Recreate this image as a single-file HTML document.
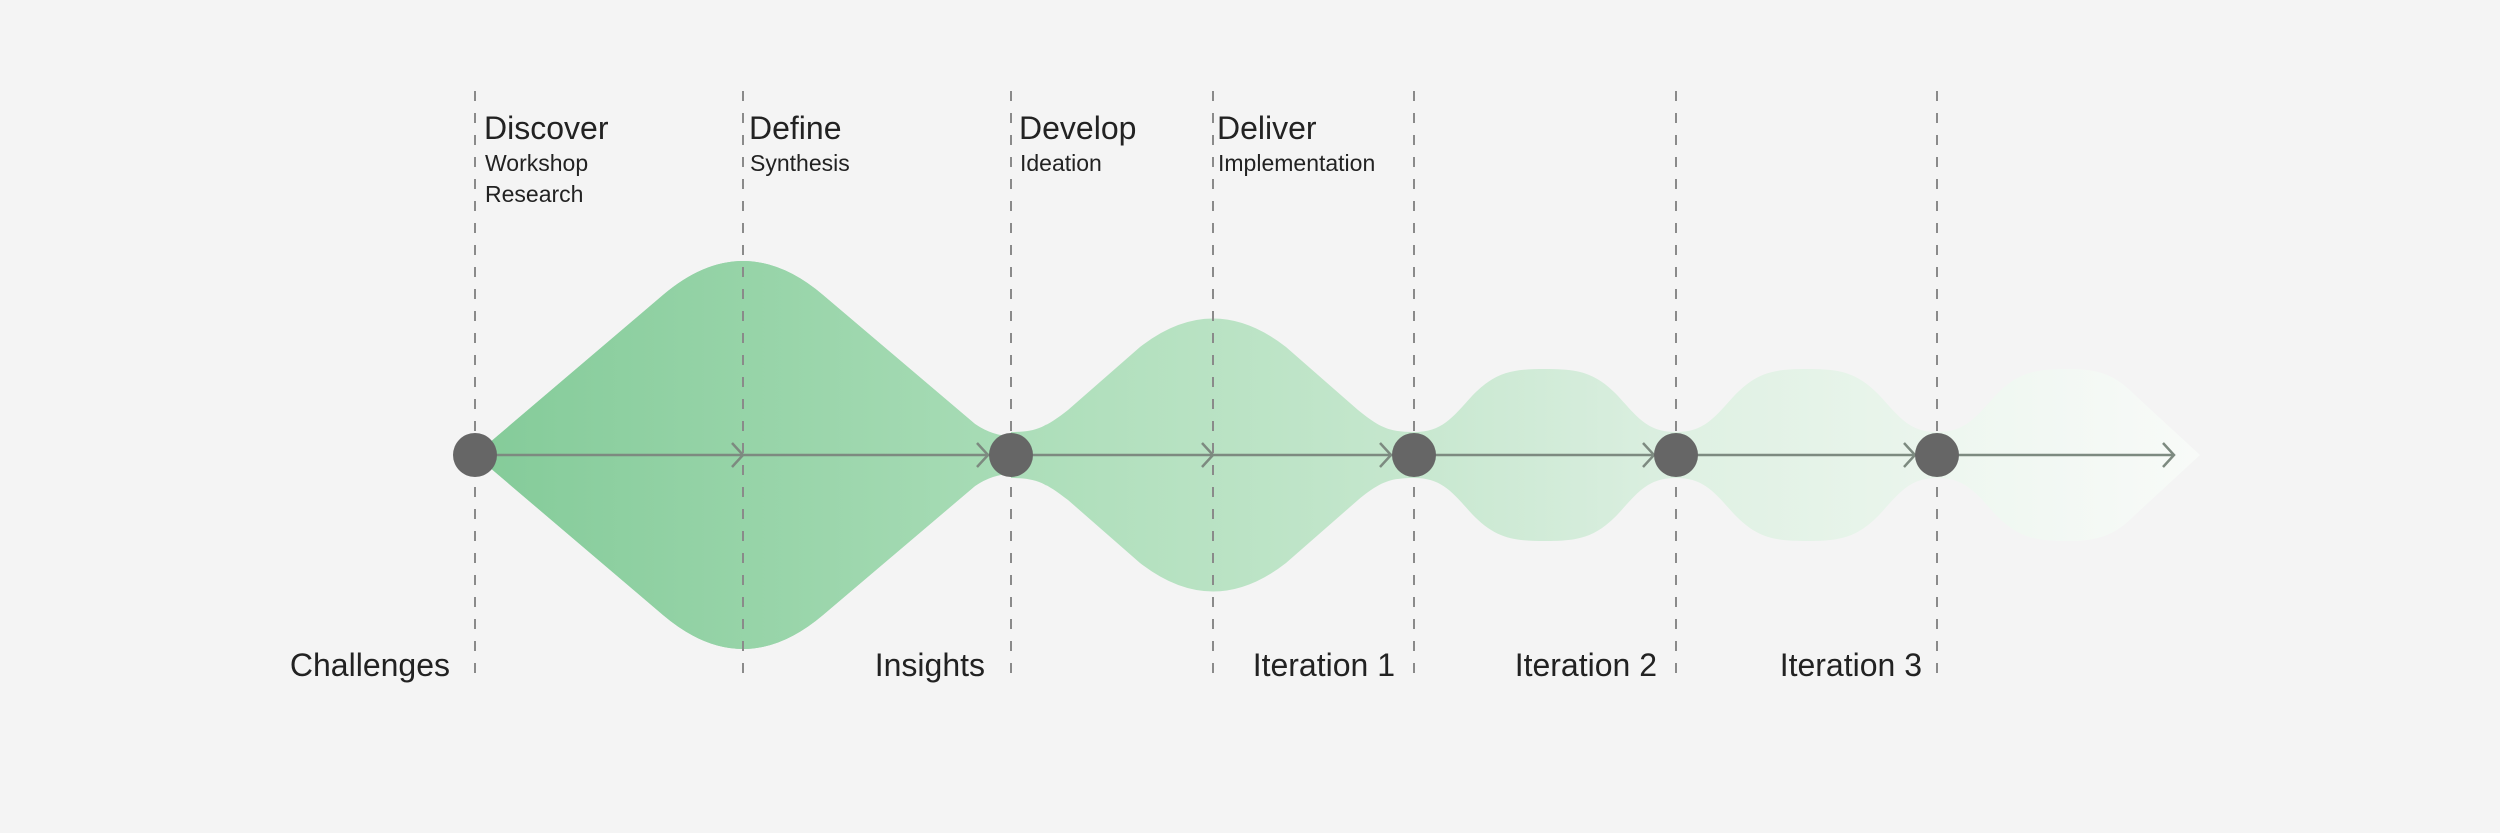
<!DOCTYPE html>
<html><head><meta charset="utf-8">
<style>
html,body{margin:0;padding:0;background:#f4f4f4;}
svg{display:block;}
text{font-family:"Liberation Sans",sans-serif;fill:#222;}
</style></head>
<body>
<svg width="2500" height="833" viewBox="0 0 2500 833" xmlns="http://www.w3.org/2000/svg">
<defs>
<linearGradient id="g" gradientUnits="userSpaceOnUse" x1="475" y1="0" x2="2200" y2="0">
<stop offset="0" stop-color="#84cb99"/>
<stop offset="0.31" stop-color="#a8dcb6"/>
<stop offset="0.312" stop-color="#acdeb9"/>
<stop offset="0.545" stop-color="#c6e7ce"/>
<stop offset="0.55" stop-color="#c8e8d0"/>
<stop offset="0.70" stop-color="#dcefe1"/>
<stop offset="0.705" stop-color="#dff1e3"/>
<stop offset="0.85" stop-color="#ebf5ed"/>
<stop offset="0.855" stop-color="#eef7f0"/>
<stop offset="1" stop-color="#f8faf8"/>
</linearGradient>
</defs>
<rect width="2500" height="833" fill="#f4f4f4"/>
<g fill="url(#g)">
<path d="M475,455 L663,295 Q743,227 823,295 L975,424 Q1011,448 1047,424 L1011,455
 M475,455 L663,615 Q743,683 823,615 L975,486 Q1011,462 1047,486 L1011,455 Z"/>
<path d="M475,455 L663,295 Q743,227 823,295 L975,424 Q1011,448 1011,455 Q1011,462 975,486 L823,615 Q743,683 663,615 Z"/>
<path d="M1011,432 C1035,432 1045,428 1068,410 L1140,347 Q1213,290 1286,347 L1358,410 C1380,428 1390,432 1414,432 L1414,478 C1390,478 1380,482 1358,500 L1286,563 Q1213,620 1140,563 L1068,500 C1045,482 1035,478 1011,478 Z"/>
<path d="M1414,432 C1442,432 1452,418 1472,396 C1495,372 1512,369 1545,369 C1578,369 1595,372 1618,396 C1638,418 1648,432 1676,432 L1676,478 C1648,478 1638,492 1618,514 C1595,538 1578,541 1545,541 C1512,541 1495,538 1472,514 C1452,492 1442,478 1414,478 Z"/>
<path d="M1676,432 C1704,432 1714,418 1734,396 C1757,372 1774,369 1807,369 C1840,369 1857,372 1880,396 C1900,418 1910,432 1937,432 L1937,478 C1910,478 1900,492 1880,514 C1857,538 1840,541 1807,541 C1774,541 1757,538 1734,514 C1714,492 1704,478 1676,478 Z"/>
<path d="M1937,432 C1965,432 1975,418 1995,396 C2018,372 2035,369 2068,369 C2100,369 2115,375 2135,395 L2200,455 L2135,515 C2115,535 2100,541 2068,541 C2035,541 2018,538 1995,514 C1975,492 1965,478 1937,478 Z"/>
</g>
<g stroke="#8a8a8a" stroke-width="2" stroke-dasharray="10,12">
<line x1="475" y1="91" x2="475" y2="678"/>
<line x1="743" y1="91" x2="743" y2="678"/>
<line x1="1011" y1="91" x2="1011" y2="678"/>
<line x1="1213" y1="91" x2="1213" y2="678"/>
<line x1="1414" y1="91" x2="1414" y2="678"/>
<line x1="1676" y1="91" x2="1676" y2="678"/>
<line x1="1937" y1="91" x2="1937" y2="678"/>
</g>
<g stroke="#7d8a80" stroke-width="2.5" fill="none">
<line x1="475" y1="455" x2="2174" y2="455"/>
<polyline points="732,443 743,455 732,467"/>
<polyline points="977,443 988,455 977,467"/>
<polyline points="1202,443 1213,455 1202,467"/>
<polyline points="1380,443 1391,455 1380,467"/>
<polyline points="1643,443 1654,455 1643,467"/>
<polyline points="1904,443 1915,455 1904,467"/>
<polyline points="2163,443 2174,455 2163,467"/>
</g>
<g fill="#666">
<circle cx="475" cy="455" r="22"/>
<circle cx="1011" cy="455" r="22"/>
<circle cx="1414" cy="455" r="22"/>
<circle cx="1676" cy="455" r="22"/>
<circle cx="1937" cy="455" r="22"/>
</g>
<g font-size="32">
<text x="484" y="139">Discover</text>
<text x="749" y="139">Define</text>
<text x="1019" y="139">Develop</text>
<text x="1217" y="139">Deliver</text>
</g>
<g font-size="23">
<text x="485" y="171">Workshop</text>
<text x="485" y="202">Research</text>
<text x="750" y="171">Synthesis</text>
<text x="1020" y="171">Ideation</text>
<text x="1218" y="171">Implementation</text>
</g>
<g font-size="32" text-anchor="end">
<text x="450" y="676">Challenges</text>
<text x="985" y="676">Insights</text>
<text x="1395" y="676">Iteration 1</text>
<text x="1657" y="676">Iteration 2</text>
<text x="1922" y="676">Iteration 3</text>
</g>
</svg>
</body></html>
